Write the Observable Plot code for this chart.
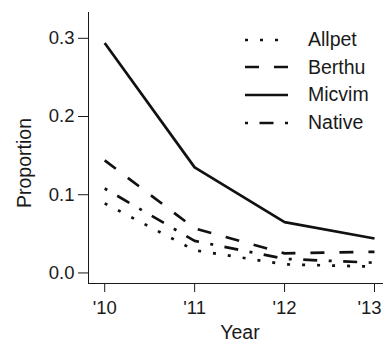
<!DOCTYPE html>
<html><head><meta charset="utf-8">
<script src="https://cdn.jsdelivr.net/npm/d3@7"></script>
<script src="https://cdn.jsdelivr.net/npm/@observablehq/plot@0.6"></script>
<style>
html,body{margin:0;padding:0;background:#fff;}
#wrap{position:relative;width:383px;height:343px;font-family:"Liberation Sans",Arial,sans-serif;color:#1a1a1a;overflow:hidden;}
#wrap svg.plot{position:absolute;left:0;top:0;}
#wrap svg.plot text{font-size:18.5px;}
.ttl{position:absolute;font-size:19.5px;white-space:nowrap;line-height:1;}
#ylab{left:25px;top:163px;transform:translate(-50%,-50%) rotate(-90deg);}
#xlab{left:240px;top:333px;transform:translate(-50%,-50%);}
#legend{position:absolute;left:245px;top:26px;}
.row{display:flex;align-items:center;height:27.6px;}
.row svg{width:44px;height:8px;margin-right:19px;display:block;}
.row span{font-size:19.5px;line-height:1;}
</style></head>
<body>
<div id="wrap"></div>
<script>
// Data
const years = [2010, 2011, 2012, 2013];
const seriesNames = ["Allpet", "Berthu", "Micvim", "Native"];
const allpet = [0.089, 0.029, 0.011, 0.008];
const berthu = [0.144, 0.057, 0.025, 0.027];
const micvim = [0.294, 0.135, 0.065, 0.044];
const native = [0.108, 0.041, 0.018, 0.013];
const yTicks = [0, 0.1, 0.2, 0.3];
const xTicks = [2010, 2011, 2012, 2013];
const xTickLabels = ["'10", "'11", "'12", "'13"];

const valuesBySeries = {Allpet: allpet, Berthu: berthu, Micvim: micvim, Native: native};
const dashBySeries = {Allpet: "3 12", Berthu: "14 15", Micvim: null, Native: "3 11.5 14 11.5"};

const xDomain = [2009.82, 2013.1];
const yDomain = [-0.0135, 0.333];

const rows = [];
for (const s of seriesNames) years.forEach((yr, i) => rows.push({series: s, year: yr, value: valuesBySeries[s][i]}));

const marks = seriesNames.map(s => Plot.line(rows.filter(r => r.series === s), {
  x: "year", y: "value", stroke: "#111", strokeWidth: 2.7,
  strokeDasharray: dashBySeries[s] || undefined,
  strokeLinejoin: "round", strokeLinecap: "butt"
}));

const chart = Plot.plot({
  width: 383, height: 343,
  marginLeft: 88, marginRight: 0, marginTop: 12, marginBottom: 60,
  style: {fontSize: "18.5px", fontFamily: "'Liberation Sans', Arial, sans-serif", color: "#1a1a1a", background: "white"},
  x: {domain: xDomain, ticks: xTicks, tickFormat: d => xTickLabels[xTicks.indexOf(d)], tickSize: 9, tickPadding: 8, line: true, label: null},
  y: {domain: yDomain, ticks: yTicks, tickFormat: d3.format(".1f"), tickSize: 10, tickPadding: 4, line: true, label: null},
  marks
});
chart.classList.add("plot");
const wrap = document.getElementById("wrap");
wrap.appendChild(chart);

// keep the last x tick label inside the picture, as in the reference
const xTexts = Array.from(chart.querySelectorAll("text")).filter(t => t.textContent === xTickLabels[xTickLabels.length - 1]);
xTexts.forEach(t => t.setAttribute("dx", "-5"));

const yl = document.createElement("div"); yl.id = "ylab"; yl.className = "ttl"; yl.textContent = "Proportion"; wrap.appendChild(yl);
const xl = document.createElement("div"); xl.id = "xlab"; xl.className = "ttl"; xl.textContent = "Year"; wrap.appendChild(xl);

const leg = document.createElement("div"); leg.id = "legend";
for (const s of seriesNames) {
  const row = document.createElement("div"); row.className = "row";
  const svg = d3.create("svg").attr("viewBox", "0 0 44 8");
  const ln = svg.append("line").attr("x1", 0).attr("x2", 43).attr("y1", 4).attr("y2", 4)
    .attr("stroke", "#111").attr("stroke-width", 2.7);
  if (dashBySeries[s]) ln.attr("stroke-dasharray", dashBySeries[s]);
  row.appendChild(svg.node());
  const sp = document.createElement("span"); sp.textContent = s; row.appendChild(sp);
  leg.appendChild(row);
}
wrap.appendChild(leg);
</script>
</body></html>
